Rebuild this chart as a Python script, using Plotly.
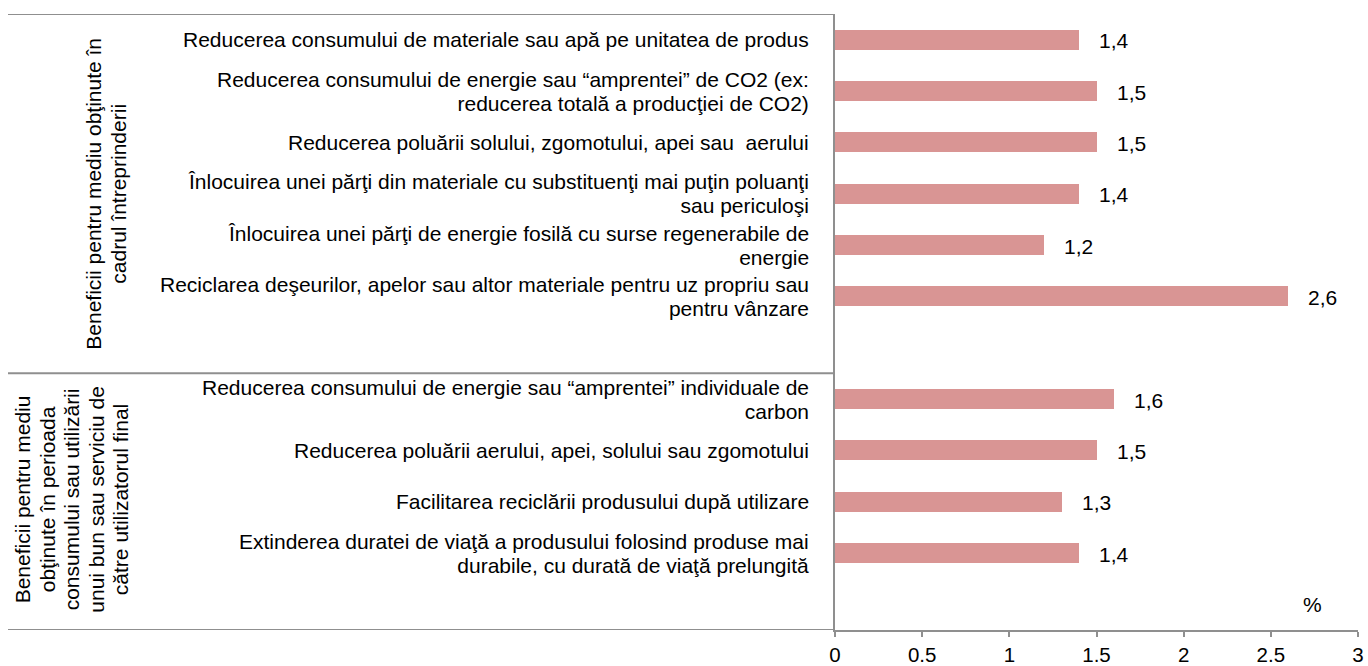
import plotly.graph_objects as go

# ---------------- data ----------------
group_titles = [
    ["Beneficii pentru mediu obţinute în", "cadrul întreprinderii"],
    ["Beneficii pentru mediu", "obţinute în perioada", "consumului sau utilizării",
     "unui bun sau serviciu de", "către utilizatorul final"],
]

group1_categories = [
    ["Reducerea consumului de materiale sau apă pe unitatea de produs"],
    ["Reducerea consumului de energie sau “amprentei” de CO2 (ex:", "reducerea totală a producţiei de CO2)"],
    ["Reducerea poluării solului, zgomotului, apei sau  aerului"],
    ["Înlocuirea unei părţi din materiale cu substituenţi mai puţin poluanţi", "sau periculoşi"],
    ["Înlocuirea unei părţi de energie fosilă cu surse regenerabile de", "energie"],
    ["Reciclarea deşeurilor, apelor sau altor materiale pentru uz propriu sau", "pentru vânzare"],
]
group1_values = [1.4, 1.5, 1.5, 1.4, 1.2, 2.6]

group2_categories = [
    ["Reducerea consumului de energie sau “amprentei” individuale de", "carbon"],
    ["Reducerea poluării aerului, apei, solului sau zgomotului"],
    ["Facilitarea reciclării produsului după utilizare"],
    ["Extinderea duratei de viaţă a produsului folosind produse mai", "durabile, cu durată de viaţă prelungită"],
]
group2_values = [1.6, 1.5, 1.3, 1.4]

x_ticks = [0, 0.5, 1, 1.5, 2, 2.5, 3]
x_tick_labels = ["0", "0.5", "1", "1.5", "2", "2.5", "3"]
unit_label = "%"

# ---------------- layout helpers ----------------
FONT = "Arial, Liberation Sans, sans-serif"
FS = 21
BAR_COLOR = "#D99594"
LINE_COLOR = "#8F8F8F"

y1 = list(range(len(group1_values)))
y2 = [len(group1_values) + 1 + i for i in range(len(group2_values))]
n_slots = len(group1_values) + len(group2_values) + 2

categories = group1_categories + group2_categories
values = group1_values + group2_values
ypos = y1 + y2


def multiline(lines, px):
    # glyphs drawn at `px`, line spacing governed by the annotation's own font size
    return "<br>".join(f'<span style="font-size:{px}px">{ln}</span>' for ln in lines)


fig = go.Figure()
fig.add_trace(go.Bar(
    x=values, y=ypos, orientation="h",
    marker=dict(color=BAR_COLOR, line=dict(width=0)),
    width=0.39, hoverinfo="skip",
))

annotations = []
for lines, y in zip(categories, ypos):
    annotations.append(dict(
        x=0, y=y, xref="x", yref="y", text=multiline(lines, FS), showarrow=False,
        xanchor="right", yanchor="middle", align="right", xshift=-24,
        font=dict(family=FONT, size=18.2, color="#000000"),
    ))
for v, y in zip(values, ypos):
    annotations.append(dict(
        x=v, y=y, xref="x", yref="y", text=f"{v:.1f}".replace(".", ","),
        showarrow=False, xanchor="left", yanchor="middle", xshift=18, yshift=-1,
        font=dict(family=FONT, size=FS, color="#000000"),
    ))

group_centers = [(y1[0] - 0.5 + y2[0] - 0.5) / 2, (y2[0] - 0.5 + n_slots - 0.5) / 2]
group_x_shift = [-729, -763]
group_y_shift = [0, 2]
for lines, yc, xs, ys in zip(group_titles, group_centers, group_x_shift, group_y_shift):
    annotations.append(dict(
        x=0, y=yc, xref="paper", yref="y", text=multiline(lines, FS), showarrow=False,
        textangle=-90, xanchor="center", yanchor="middle", align="center",
        xshift=xs, yshift=ys,
        font=dict(family=FONT, size=18.8, color="#000000"),
    ))

annotations.append(dict(
    x=1, y=n_slots - 1, xref="paper", yref="y", text=unit_label, showarrow=False,
    xanchor="center", yanchor="middle", xshift=-46,
    font=dict(family=FONT, size=FS, color="#000000"),
))

LEFT_EDGE = -(835 - 8) / 523.0
shapes = [
    dict(type="line", xref="paper", yref="y", x0=LEFT_EDGE, x1=0, y0=-0.5, y1=-0.5,
         line=dict(color=LINE_COLOR, width=2)),
    dict(type="line", xref="paper", yref="y", x0=LEFT_EDGE, x1=0, y0=y2[0] - 0.5, y1=y2[0] - 0.5,
         line=dict(color=LINE_COLOR, width=2)),
    dict(type="line", xref="paper", yref="y", x0=LEFT_EDGE, x1=0, y0=n_slots - 0.5, y1=n_slots - 0.5,
         line=dict(color=LINE_COLOR, width=2)),
]

fig.update_layout(
    width=1368, height=666, autosize=False,
    margin=dict(l=835, r=10, t=14, b=36, autoexpand=False),
    paper_bgcolor="white", plot_bgcolor="white",
    showlegend=False,
    bargap=0,
    annotations=annotations,
    shapes=shapes,
    font=dict(family=FONT, size=FS, color="#000000"),
    xaxis=dict(
        range=[0, 3], tickvals=x_ticks, ticktext=x_tick_labels,
        showgrid=False, zeroline=False, automargin=False,
        showline=True, linecolor=LINE_COLOR, linewidth=2,
        ticks="outside", ticklen=5, tickwidth=2, tickcolor=LINE_COLOR,
        tickfont=dict(family=FONT, size=20.5, color="#000000"),
        ticklabelstandoff=0,
        fixedrange=True,
    ),
    yaxis=dict(
        range=[n_slots - 0.5, -0.5], showticklabels=False, automargin=False,
        showgrid=False, zeroline=False,
        showline=True, linecolor=LINE_COLOR, linewidth=2,
        ticks="", fixedrange=True,
    ),
)

fig.write_html(
    "out.html",
    config={"displayModeBar": False, "responsive": False},
    post_script="document.body.style.margin='0';",
)
